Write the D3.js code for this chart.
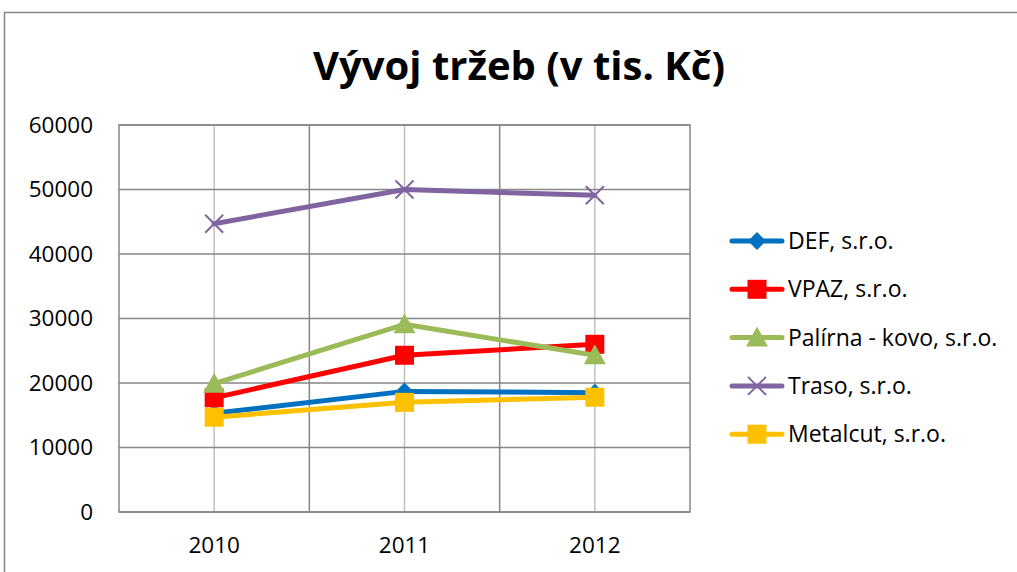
<!DOCTYPE html>
<html>
<head>
<meta charset="utf-8">
<script src="https://cdn.jsdelivr.net/npm/d3@7"></script>
<style>
  body { margin: 0; background: #fff; }
  svg text { font-family: "Open Sans", "Noto Sans", sans-serif; fill: #000; }
</style>
</head>
<body>
<div id="chart"></div>
<script>
// data
const years = ["2010", "2011", "2012"];
const def = [15300, 18700, 18500];
const vpaz = [17700, 24300, 26000];
const palirna = [19900, 29100, 24300];
const traso = [44700, 50000, 49100];
const metalcut = [14700, 17000, 17800];
const yTicks = [0, 10000, 20000, 30000, 40000, 50000, 60000];

const series = [
  {name: "DEF, s.r.o.", values: def, color: "#0070c0", marker: "diamond"},
  {name: "VPAZ, s.r.o.", values: vpaz, color: "#ff0000", marker: "square"},
  {name: "Palírna - kovo, s.r.o.", values: palirna, color: "#9bbb59", marker: "triangle"},
  {name: "Traso, s.r.o.", values: traso, color: "#8064a2", marker: "x"},
  {name: "Metalcut, s.r.o.", values: metalcut, color: "#ffc000", marker: "square"}
];

const W = 1017, H = 572;
const plot = {left: 119, right: 690, top: 125, bottom: 512};

const svg = d3.select("#chart").append("svg")
    .attr("width", W)
    .attr("height", H);

// outer chart frame (right and bottom edges run off the picture)
svg.append("rect")
    .attr("x", 4.5).attr("y", 12.5)
    .attr("width", W + 20).attr("height", H + 20)
    .attr("fill", "none")
    .attr("stroke", "#868686")
    .attr("stroke-width", 1.5);

svg.append("text")
    .attr("x", 519).attr("y", 80)
    .attr("text-anchor", "middle")
    .style("font-size", "40px")
    .style("font-weight", "bold")
    .text("Vývoj tržeb (v tis. Kč)");

const x = d3.scaleBand()
    .domain(years)
    .range([plot.left, plot.right])
    .padding(0);

const y = d3.scaleLinear()
    .domain([0, 60000])
    .range([plot.bottom, plot.top]);

const cx = d => x(d) + x.bandwidth() / 2;

// vertical gridlines at category centres (light)
svg.append("g").selectAll("line")
    .data(years)
  .enter().append("line")
    .attr("x1", d => cx(d)).attr("x2", d => cx(d))
    .attr("y1", plot.top).attr("y2", plot.bottom)
    .attr("stroke", "#bfbfbf")
    .attr("stroke-width", 1.5);

// vertical lines at category boundaries (darker)
svg.append("g").selectAll("line")
    .data(years.slice(1))
  .enter().append("line")
    .attr("x1", d => x(d)).attr("x2", d => x(d))
    .attr("y1", plot.top).attr("y2", plot.bottom)
    .attr("stroke", "#868686")
    .attr("stroke-width", 1.5);

// horizontal gridlines
svg.append("g").selectAll("line")
    .data(yTicks)
  .enter().append("line")
    .attr("x1", plot.left).attr("x2", plot.right)
    .attr("y1", d => y(d)).attr("y2", d => y(d))
    .attr("stroke", "#868686")
    .attr("stroke-width", 1.5);

// plot border
svg.append("rect")
    .attr("x", plot.left).attr("y", plot.top)
    .attr("width", plot.right - plot.left)
    .attr("height", plot.bottom - plot.top)
    .attr("fill", "none")
    .attr("stroke", "#868686")
    .attr("stroke-width", 1.5);

// y axis labels
const yAxis = svg.append("g")
    .attr("transform", "translate(" + plot.left + ",0)")
    .call(d3.axisLeft(y).tickValues(yTicks).tickSize(0).tickPadding(26).tickFormat(d3.format("d")));
yAxis.select(".domain").remove();
yAxis.selectAll("text")
    .style("font-size", "22.5px")
    .style("font-family", "\"Open Sans\", sans-serif");

// x axis labels
const xAxis = svg.append("g")
    .attr("transform", "translate(0," + plot.bottom + ")")
    .call(d3.axisBottom(x).tickSize(0).tickPadding(25));
xAxis.select(".domain").remove();
xAxis.selectAll("text")
    .style("font-size", "22.5px")
    .style("font-family", "\"Open Sans\", sans-serif");

const line = d3.line()
    .x((d, i) => cx(years[i]))
    .y(d => y(d));

function drawMarker(g, type, color) {
  if (type === "square") {
    g.append("rect").attr("x", -9.5).attr("y", -9.5).attr("width", 19).attr("height", 19).attr("fill", color);
  } else if (type === "diamond") {
    g.append("path").attr("d", "M0,-9L9,0L0,9L-9,0Z").attr("fill", color);
  } else if (type === "triangle") {
    g.append("path").attr("d", "M0,-11L11,9L-11,9Z").attr("fill", color);
  } else if (type === "x") {
    g.append("path").attr("d", "M-9,-9L9,9M-9,9L9,-9").attr("stroke", color).attr("stroke-width", 2).attr("fill", "none");
  }
}

series.forEach(s => {
  svg.append("path")
      .datum(s.values)
      .attr("fill", "none")
      .attr("stroke", s.color)
      .attr("stroke-width", 5)
      .attr("stroke-linejoin", "round")
      .attr("stroke-linecap", "round")
      .attr("d", line);
  s.values.forEach((v, i) => {
    const g = svg.append("g").attr("transform", "translate(" + cx(years[i]) + "," + y(v) + ")");
    drawMarker(g, s.marker, s.color);
  });
});

// legend
const legend = svg.append("g").attr("transform", "translate(730,241)");
series.forEach((s, i) => {
  const g = legend.append("g").attr("transform", "translate(0," + (i * 48.3) + ")");
  g.append("line")
      .attr("x1", 2).attr("x2", 52)
      .attr("stroke", s.color)
      .attr("stroke-width", 5)
      .attr("stroke-linecap", "round");
  const m = g.append("g").attr("transform", "translate(27,0)");
  drawMarker(m, s.marker, s.color);
  g.append("text")
      .attr("x", 58).attr("y", 0)
      .attr("dy", "0.35em")
      .style("font-size", "23px")
      .text(s.name);
});
</script>
</body>
</html>
